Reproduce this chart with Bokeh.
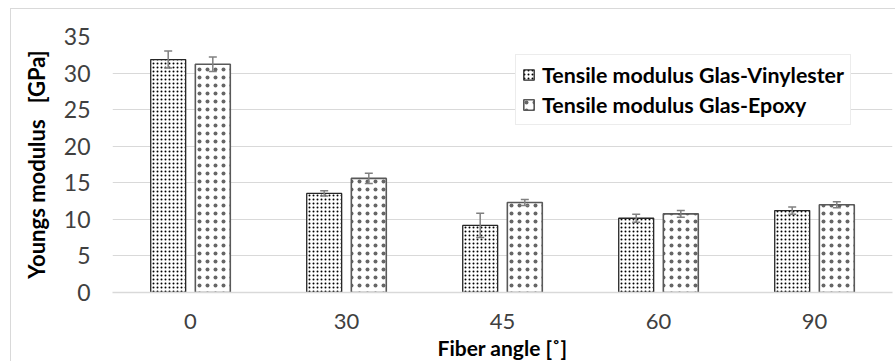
from bokeh.plotting import figure
from bokeh.models import (ColumnDataSource, FactorRange, Range1d, Whisker, Legend,
                          LegendItem, TeeHead, FixedTicker)
from bokeh.transform import dodge
from bokeh.embed import file_html
from bokeh.resources import INLINE

# ---- data ----
angles = ["0", "30", "45", "60", "90"]
vinylester = [31.85, 13.55, 9.17, 10.15, 11.2]
vinylester_err = [1.17, 0.35, 1.65, 0.55, 0.5]
epoxy = [31.2, 15.6, 12.3, 10.75, 12.0]
epoxy_err = [1.0, 0.7, 0.4, 0.45, 0.4]
y_ticks = [0, 5, 10, 15, 20, 25, 30, 35]
series_names = ["Tensile modulus Glas-Vinylester", "Tensile modulus Glas-Epoxy"]

src = ColumnDataSource(dict(
    angle=angles,
    ve=vinylester,
    ve_up=[v + e for v, e in zip(vinylester, vinylester_err)],
    ve_lo=[v - e for v, e in zip(vinylester, vinylester_err)],
    ep=epoxy,
    ep_up=[v + e for v, e in zip(epoxy, epoxy_err)],
    ep_lo=[v - e for v, e in zip(epoxy, epoxy_err)],
))

FONT = "Lato"

p = figure(width=885, height=353, x_range=FactorRange(factors=angles, range_padding=0),
           y_range=Range1d(0, 35), output_backend="svg", toolbar_location=None,
           min_border_left=101, min_border_right=4, min_border_top=27, min_border_bottom=70)
p.styles = {"margin-left": "10px", "margin-top": "8px",
            "border-left": "1px solid #d9d9d9", "border-top": "1px solid #d9d9d9"}
p.outline_line_color = None
p.background_fill_color = "white"
p.border_fill_color = "white"

off = 0.143
bw = 0.224
r_ve = p.vbar(x=dodge("angle", -off, range=p.x_range), top="ve", width=bw, source=src,
              fill_color="white", line_color="#262626", line_width=1.3,
              hatch_pattern="dot", hatch_scale=4, hatch_color="black")
r_ep = p.vbar(x=dodge("angle", off, range=p.x_range), top="ep", width=bw, source=src,
              fill_color="white", line_color="#595959", line_width=1.6,
              hatch_pattern="dot", hatch_scale=8, hatch_color="black", hatch_alpha=0.6)

for base, up, lo in [(-off, "ve_up", "ve_lo"), (off, "ep_up", "ep_lo")]:
    w = Whisker(base=dodge("angle", base, range=p.x_range), upper=up, lower=lo, source=src,
                line_color="#808080", line_width=1.5, level="overlay",
                upper_head=TeeHead(size=8, line_color="#808080", line_width=1.5),
                lower_head=TeeHead(size=8, line_color="#808080", line_width=1.5))
    p.add_layout(w)

# grid / axes
p.xgrid.grid_line_color = None
p.ygrid.grid_line_color = "#d9d9d9"
p.ygrid.grid_line_width = 1
p.yaxis.ticker = FixedTicker(ticks=y_ticks)
p.yaxis.axis_line_color = None
p.yaxis.major_tick_line_color = None
p.yaxis.minor_tick_line_color = None
p.yaxis.major_label_standoff = 16
p.yaxis.major_label_text_font = FONT
p.yaxis.major_label_text_font_size = "23px"
p.yaxis.major_label_text_color = "#404040"
p.yaxis.axis_label = "Youngs modulus\u00a0\u00a0 [GPa]"
p.yaxis.axis_label_text_font = FONT
p.yaxis.axis_label_text_font_size = "22px"
p.yaxis.axis_label_text_font_style = "bold"
p.yaxis.axis_label_text_color = "black"
p.yaxis.axis_label_standoff = 11

p.xaxis.axis_line_color = "#d9d9d9"
p.xaxis.axis_line_width = 1.5
p.xaxis.major_tick_line_color = None
p.xaxis.minor_tick_line_color = None
p.xaxis.major_label_standoff = 15
p.xaxis.major_label_text_font = FONT
p.xaxis.major_label_text_font_size = "22px"
p.xaxis.major_label_text_color = "#404040"
p.xaxis.axis_label = "Fiber angle [\u02da]"
p.xaxis.axis_label_text_font = FONT
p.xaxis.axis_label_text_font_size = "21px"
p.xaxis.axis_label_text_font_style = "bold"
p.xaxis.axis_label_text_color = "black"
p.xaxis.axis_label_standoff = 3

legend = Legend(items=[LegendItem(label=series_names[0], renderers=[r_ve]),
                       LegendItem(label=series_names[1], renderers=[r_ep])],
                location=(403, 167), padding=6, spacing=3, label_standoff=7,
                glyph_width=13, glyph_height=13, label_height=27,
                label_text_font=FONT, label_text_font_size="21.4px",
                label_text_font_style="bold", label_text_color="black",
                border_line_color="#d9d9d9", border_line_width=1,
                background_fill_color="white", background_fill_alpha=1)
p.add_layout(legend)

open("out.html", "w").write(file_html(p, INLINE))
